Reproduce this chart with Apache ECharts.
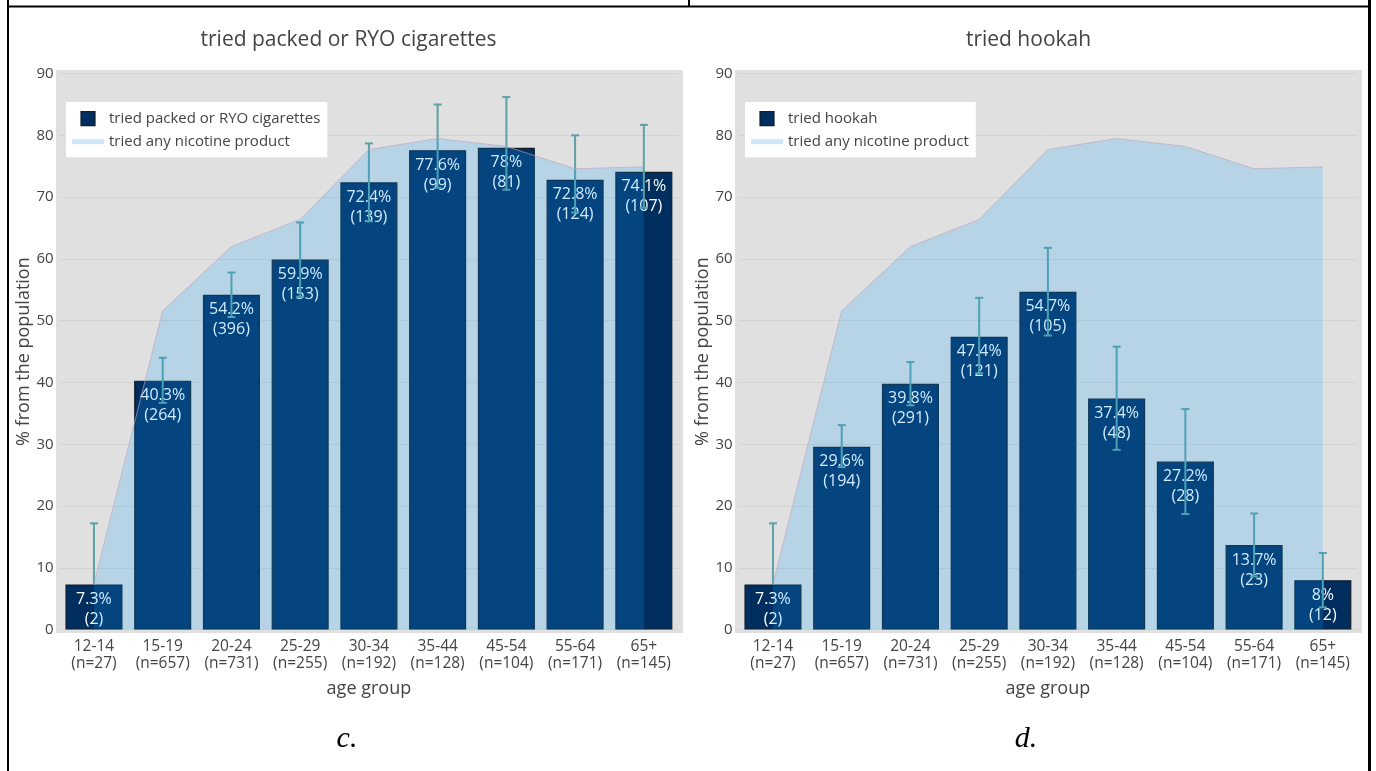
<!DOCTYPE html>
<html>
<head>
<meta charset="utf-8">
<script src="https://cdn.jsdelivr.net/npm/echarts@6/dist/echarts.min.js"></script>
<style>
  html, body { margin: 0; padding: 0; background: #fff; }
  #chart { width: 1376px; height: 771px; }
</style>
</head>
<body>
<div id="chart"></div>
<script>
// ---- data ----
const ageGroups = ['12-14', '15-19', '20-24', '25-29', '30-34', '35-44', '45-54', '55-64', '65+'];
const groupN = [27, 657, 731, 255, 192, 128, 104, 171, 145];
const anyNicotine = [7.4, 51.6, 62.0, 66.4, 77.7, 79.5, 78.2, 74.6, 74.9];

const cigPct = [7.3, 40.3, 54.2, 59.9, 72.4, 77.6, 78, 72.8, 74.1];
const cigCount = [2, 264, 396, 153, 139, 99, 81, 124, 107];
const cigLow = [null, 36.7, 50.6, 53.9, 66.1, 71.5, 71.2, 67.5, 68.3];
const cigHigh = [17.2, 44.0, 57.8, 65.9, 78.7, 85.0, 86.2, 80.0, 81.7];

const hookahPct = [7.3, 29.6, 39.8, 47.4, 54.7, 37.4, 27.2, 13.7, 8];
const hookahCount = [2, 194, 291, 121, 105, 48, 28, 23, 12];
const hookahLow = [null, 26.3, 36.3, 41.5, 47.6, 29.1, 18.7, 8.6, 3.6];
const hookahHigh = [17.2, 33.1, 43.3, 53.7, 61.8, 45.8, 35.7, 18.8, 12.4];

const yMin = 0, yMax = 90, yStep = 10;

// ---- helpers ----
const FONT = '"Open Sans", "DejaVu Sans", sans-serif';
const TXT = '#444';
const xLabels = ageGroups.map((g, i) => g + '\n(n=' + groupN[i] + ')');

function errData(pct, low, high) {
  return pct.map((v, i) => [i, low[i] == null ? v : low[i], high[i], low[i] == null ? 0 : 1]);
}
function errRender(params, api) {
  const x = api.value(0);
  const lo = api.value(1), hi = api.value(2), hasLo = api.value(3);
  const pTop = api.coord([x, hi]);
  const pBot = api.coord([x, lo]);
  const hw = 4;
  const st = { stroke: '#5ca2a6', lineWidth: 2 };
  const children = [
    { type: 'line', shape: { x1: pTop[0], y1: pTop[1], x2: pBot[0], y2: pBot[1] }, style: st },
    { type: 'line', shape: { x1: pTop[0] - hw, y1: pTop[1], x2: pTop[0] + hw, y2: pTop[1] }, style: st }
  ];
  if (hasLo) {
    children.push({ type: 'line', shape: { x1: pBot[0] - hw, y1: pBot[1], x2: pBot[0] + hw, y2: pBot[1] }, style: st });
  }
  return { type: 'group', children };
}

function makeAxes(idx) {
  return {
    x: {
      type: 'category', gridIndex: idx, data: xLabels,
      axisLine: { show: false }, axisTick: { show: false },
      axisLabel: { color: TXT, fontSize: 15.5, lineHeight: 17, margin: 8, interval: 0, fontFamily: FONT },
      name: 'age group', nameLocation: 'middle', nameGap: 50,
      nameTextStyle: { color: TXT, fontSize: 18, fontFamily: FONT }
    },
    y: {
      type: 'value', gridIndex: idx, min: yMin, max: yMax, interval: yStep,
      axisLine: { show: false }, axisTick: { show: false },
      axisLabel: { color: TXT, fontSize: 15, margin: 6, fontFamily: FONT },
      splitLine: { lineStyle: { color: '#d3d3d3', width: 1 } },
      name: '% from the population', nameLocation: 'middle', nameGap: 26,
      nameTextStyle: { color: TXT, fontSize: 18, fontFamily: FONT }
    }
  };
}

function barSeries(name, idx, pct, counts) {
  return {
    name, type: 'bar', xAxisIndex: idx, yAxisIndex: idx, data: pct,
    barWidth: '83%', z: 2,
    itemStyle: { color: '#002e5f', borderColor: '#0f1d2b', borderWidth: 1.2 },
    label: {
      show: true, position: 'insideTop', distance: 5, color: '#fff',
      fontSize: 16, lineHeight: 20, fontFamily: FONT,
      formatter: p => p.value + '%\n(' + counts[p.dataIndex] + ')'
    },
    emphasis: { disabled: true }, animation: false
  };
}
function errSeries(idx, pct, low, high) {
  return {
    type: 'custom', xAxisIndex: idx, yAxisIndex: idx, z: 3,
    data: errData(pct, low, high), renderItem: errRender,
    encode: { x: 0, y: [1, 2] }, silent: true, animation: false
  };
}
function areaSeries(idx) {
  return {
    name: 'tried any nicotine product', type: 'line', xAxisIndex: idx, yAxisIndex: idx,
    data: anyNicotine, z: 4, symbol: 'none', smooth: false,
    lineStyle: { color: 'rgba(190,165,190,0.65)', width: 1 },
    areaStyle: { color: 'rgba(20,160,255,0.2)', opacity: 1 },
    itemStyle: { color: 'rgba(20,160,255,0.2)' },
    emphasis: { disabled: true }, silent: true, animation: false
  };
}
function legendFor(barName, left) {
  return {
    left, top: 102, orient: 'vertical', selectedMode: false,
    backgroundColor: '#fff', padding: [9, 7, 8, 6],
    itemWidth: 32, itemHeight: 14, itemGap: 8,
    textStyle: { color: TXT, fontSize: 15, fontFamily: FONT },
    data: [
      { name: barName, icon: 'path://M0,0h14v14h-14z',
        itemStyle: { color: '#002e5f', borderColor: '#0f1d2b', borderWidth: 1.2 } },
      { name: 'tried any nicotine product', icon: 'path://M0,0h32v5h-32z',
        itemStyle: { color: '#cfe7fb', borderWidth: 0 } }
    ]
  };
}

const a0 = makeAxes(0), a1 = makeAxes(1);
const border = { stroke: '#000', lineWidth: 2 };

const option = {
  animation: false,
  textStyle: { fontFamily: FONT },
  grid: [
    { left: 59.6, top: 73.6, width: 618.6, height: 556, containLabel: false },
    { left: 738.6, top: 73.6, width: 618.6, height: 556, containLabel: false }
  ],
  xAxis: [a0.x, a1.x],
  yAxis: [a0.y, a1.y],
  legend: [legendFor('tried packed or RYO cigarettes', 66), legendFor('tried hookah', 745)],
  graphic: [
    { type: 'rect', z: -1, silent: true, shape: { x: 56, y: 70, width: 627, height: 563 }, style: { fill: '#e0e0e0' } },
    { type: 'rect', z: -1, silent: true, shape: { x: 735, y: 70, width: 627, height: 563 }, style: { fill: '#e0e0e0' } },
    // table borders
    { type: 'line', silent: true, shape: { x1: 8, y1: 0, x2: 8, y2: 771 }, style: border },
    { type: 'line', silent: true, shape: { x1: 1369.5, y1: 0, x2: 1369.5, y2: 771 }, style: { stroke: '#000', lineWidth: 3 } },
    { type: 'line', silent: true, shape: { x1: 8, y1: 6.5, x2: 1370, y2: 6.5 }, style: border },
    { type: 'line', silent: true, shape: { x1: 689, y1: 0, x2: 689, y2: 6.5 }, style: border },
    // titles
    { type: 'text', silent: true, x: 348.5, y: 40, style: { text: 'tried packed or RYO cigarettes', fill: TXT, font: '21px ' + FONT, textAlign: 'center', textVerticalAlign: 'middle' } },
    { type: 'text', silent: true, x: 1028.5, y: 40, style: { text: 'tried hookah', fill: TXT, font: '21px ' + FONT, textAlign: 'center', textVerticalAlign: 'middle' } },
    // captions
    { type: 'text', silent: true, x: 347, y: 739, style: { text: 'c.', fill: '#000', font: 'italic 30px "Liberation Serif", "DejaVu Serif", serif', textAlign: 'center', textVerticalAlign: 'middle' } },
    { type: 'text', silent: true, x: 1026, y: 739, style: { text: 'd.', fill: '#000', font: 'italic 30px "Liberation Serif", "DejaVu Serif", serif', textAlign: 'center', textVerticalAlign: 'middle' } }
  ],
  series: [
    barSeries('tried packed or RYO cigarettes', 0, cigPct, cigCount),
    errSeries(0, cigPct, cigLow, cigHigh),
    areaSeries(0),
    barSeries('tried hookah', 1, hookahPct, hookahCount),
    errSeries(1, hookahPct, hookahLow, hookahHigh),
    areaSeries(1)
  ]
};

const chart = echarts.init(document.getElementById('chart'), null, { renderer: 'canvas' });
chart.setOption(option);
</script>
</body>
</html>
